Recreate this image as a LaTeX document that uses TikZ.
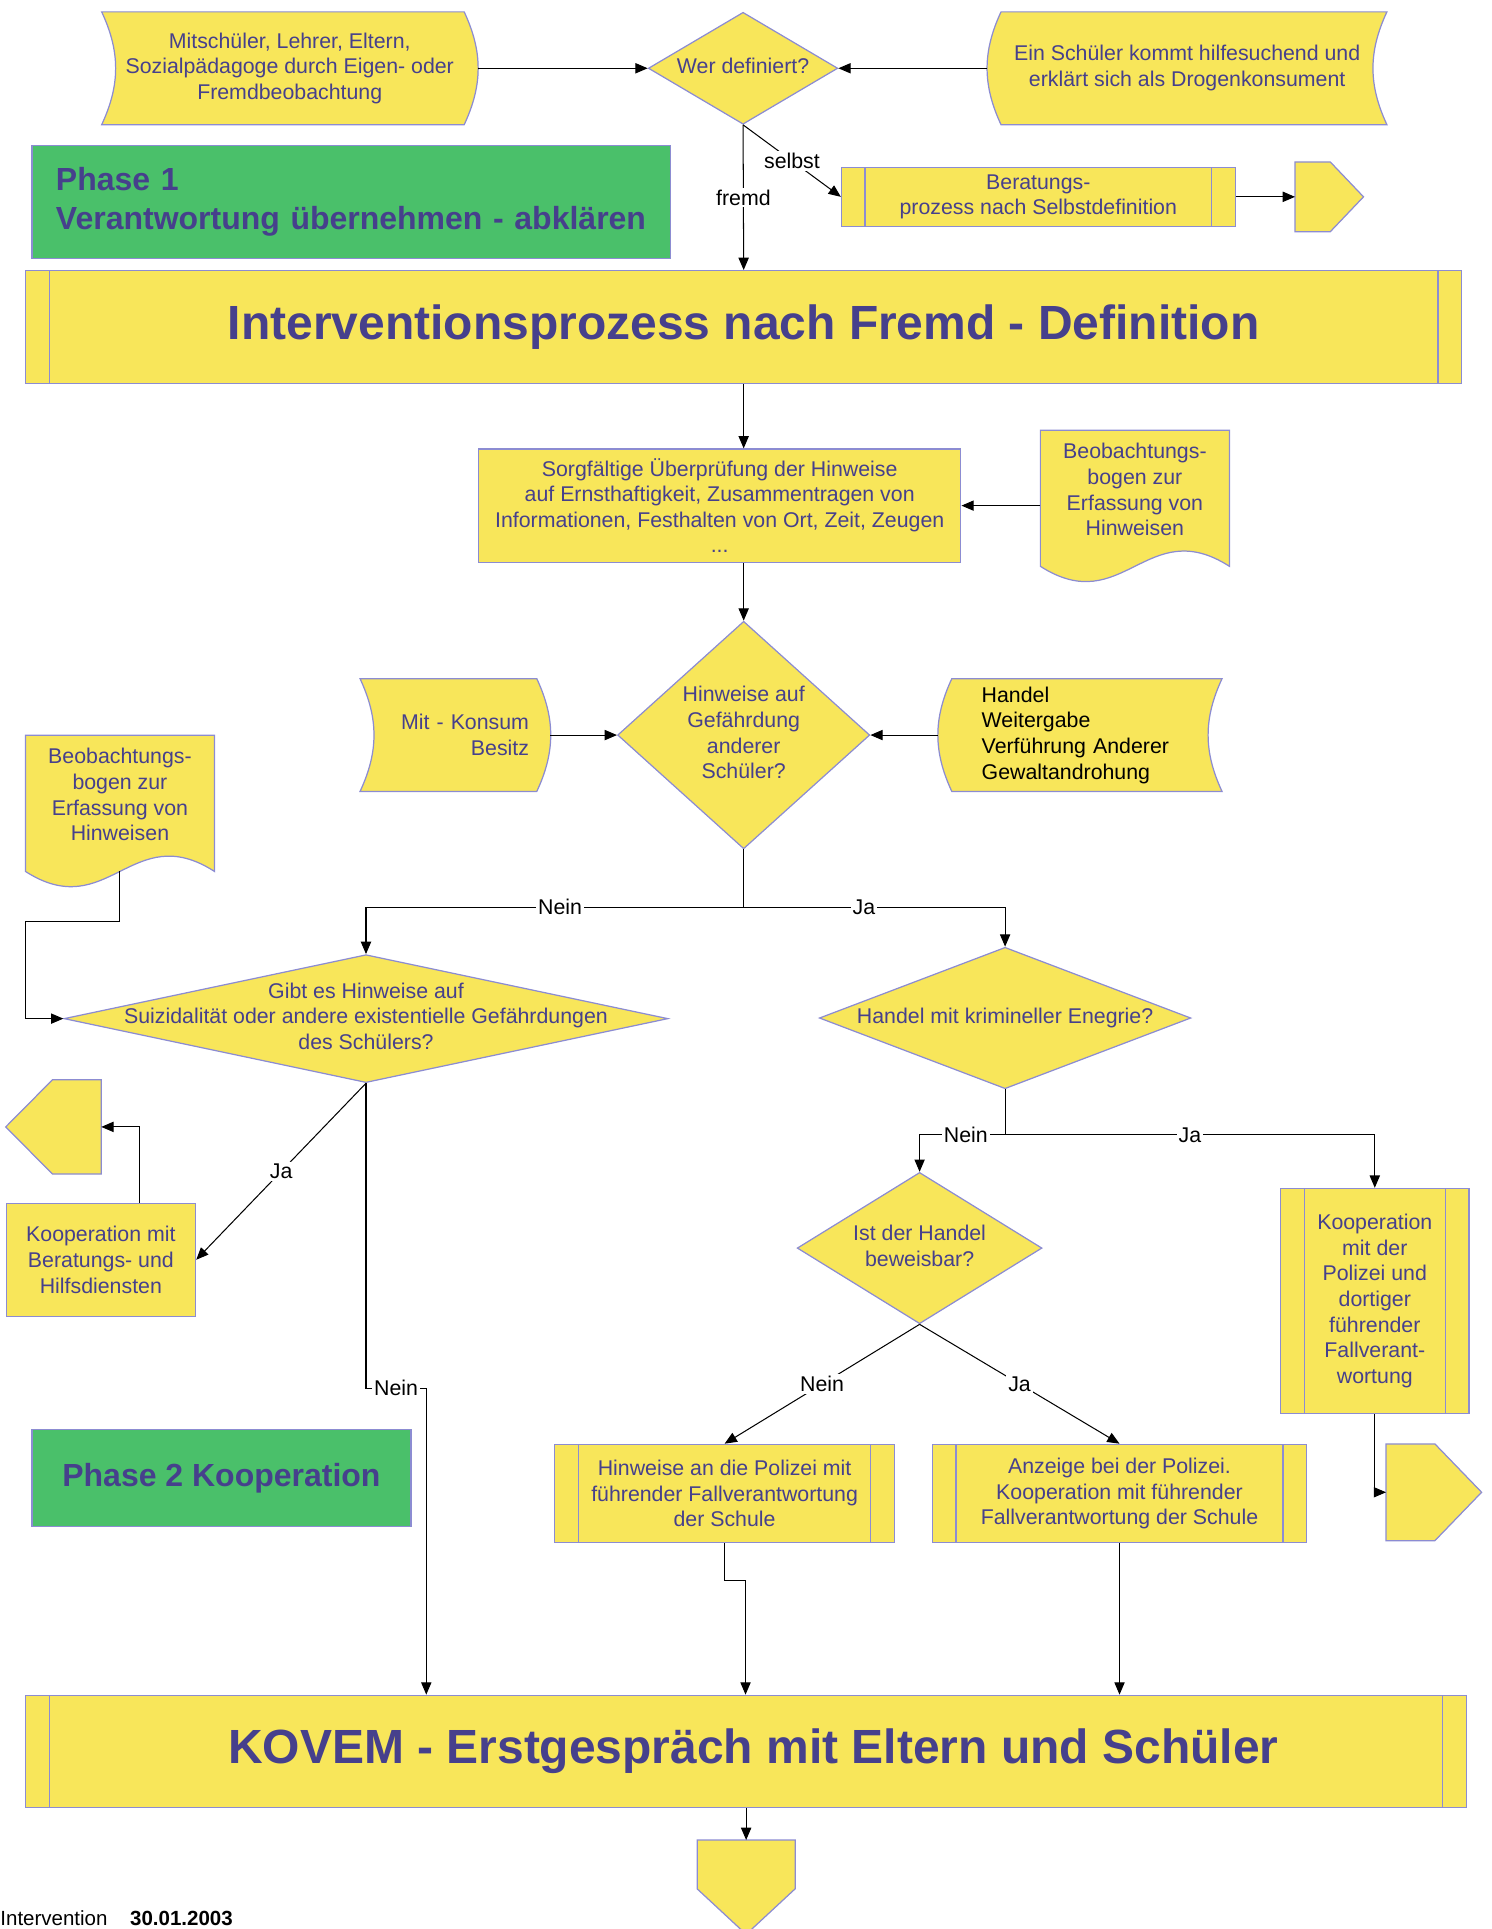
\documentclass[tikz,border=0pt]{standalone}
\usepackage{fontspec}
\setmainfont{Liberation Sans}
\usetikzlibrary{shapes.geometric, arrows.meta, backgrounds, positioning}

\definecolor{boxfill}{RGB}{248,230,90}
\definecolor{boxline}{RGB}{140,140,210}
\definecolor{txtblue}{RGB}{70,64,140}
\definecolor{phasegreen}{RGB}{74,192,106}

\newcommand{\fnorm}{\fontsize{10.4}{12.5}\selectfont}
\newcommand{\ftitle}{\fontsize{23.4}{28}\selectfont\bfseries}
% text in a diamond, kept out of the node size
\newcommand{\dtxt}[1]{\makebox[0pt]{\raisebox{-2.6pt}{\begin{tabular}{@{}c@{}}#1\end{tabular}}}}
% outlines drawn behind the nodes
\newcommand{\bowright}[1]{\path[shapefill] (#1.north west) to[bend left=25] (#1.south west) -- ([xshift=-6.6pt]#1.south east) to[bend right=25] ([xshift=-6.6pt]#1.north east) -- cycle;}
\newcommand{\bowleft}[1]{\path[shapefill] ([xshift=6.6pt]#1.north west) to[bend right=25] ([xshift=6.6pt]#1.south west) -- (#1.south east) to[bend left=25] (#1.north east) -- cycle;}
\newcommand{\docwave}[1]{\path[shapefill] (#1.north west) -- (#1.north east) -- ([yshift=-8.4pt]#1.south east) .. controls ([xshift=-40.2pt,yshift=17.4pt]#1.south east) and ([xshift=40.2pt,yshift=-34.2pt]#1.south west) .. ([yshift=-8.4pt]#1.south west) -- cycle;}
% off-page connectors
\newcommand{\pentright}[2]{\path[shapefill] (#1.north west) -- ([xshift=-#2]#1.north east) -- (#1.east) -- ([xshift=-#2]#1.south east) -- (#1.south west) -- cycle;}
\newcommand{\pentleft}[2]{\path[shapefill] (#1.north east) -- ([xshift=#2]#1.north west) -- (#1.west) -- ([xshift=#2]#1.south west) -- (#1.south east) -- cycle;}
\newcommand{\pentdown}[2]{\path[shapefill] (#1.north west) -- (#1.north east) -- ([yshift=#2]#1.south east) -- (#1.south) -- ([yshift=#2]#1.south west) -- cycle;}

\begin{document}
\begin{tikzpicture}[x=0.6pt, y=-0.6pt,
	sz/.style 2 args={minimum width=#1*0.6pt, minimum height=#2*0.6pt},
	plain/.style={rectangle, inner sep=2pt, text=txtblue, font=\fnorm, align=center},
	box/.style={plain, draw=boxline, fill=boxfill, line width=0.6pt},
	proc/.style={box, path picture={\draw[boxline, line width=0.6pt] ([xshift=11.5pt]path picture bounding box.north west) -- ([xshift=11.5pt]path picture bounding box.south west) ([xshift=-11.5pt]path picture bounding box.north east) -- ([xshift=-11.5pt]path picture bounding box.south east);}},
	dec/.style={diamond, draw=boxline, fill=boxfill, line width=0.6pt, inner sep=0pt, text height=0pt, text depth=0pt, text=txtblue, font=\fnorm},
	sig/.style={rectangle, inner sep=0pt},
	phase/.style={rectangle, draw=boxline, fill=phasegreen, line width=0.6pt, text=txtblue, font=\fontsize{15.6}{18.6}\selectfont\bfseries},
	conn/.style={draw=black, line width=0.5pt, -{Triangle[length=6pt,width=5pt]}},
	lbl/.style={fill=white, inner sep=1pt, font=\fnorm, text=black},
	shapefill/.style={fill=boxfill, draw=boxline, line width=0.6pt}]
		\useasboundingbox (0,0) rectangle (1212,1568);
		% Phase 1
		\node[plain, sz={305}{91}] (beob) at (235.5,55.5) {Mitschüler, Lehrer, Eltern,\\Sozialpädagoge durch Eigen- oder\\Fremdbeobachtung};
		\node[dec, sz={154}{91}] (wer) at (604,55.5) {\dtxt{Wer definiert?}};
		\node[plain, sz={324}{91}] (hilfe) at (965,55.5) {Ein Schüler kommt hilfesuchend und\\erklärt sich als Drogenkonsument};
		\node[phase, sz={519}{92}, align=left, text width=288pt] (phase1) at (285.5,164) {Phase 1\\Verantwortung übernehmen - abklären};
		\node[proc, sz={320}{48}] (selbstproz) at (844,160) {Beratungs-\\prozess nach Selbstdefinition};
		\node[sig, sz={55}{56}] (ausR) at (1080.5,160) {};
		\node[proc, sz={1167}{92}, font=\ftitle] (intv) at (604.5,266) {\raisebox{-1.5pt}{Interventionsprozess nach Fremd - Definition}};
		\node[box, sz={392}{92}] (pruef) at (585,411) {Sorgfältige Überprüfung der Hinweise\\auf Ernsthaftigkeit, Zusammentragen von\\Informationen, Festhalten von Ort, Zeit, Zeugen\\...};
		\node[plain, sz={153}{96}] (bogenR) at (922.5,398) {Beobachtungs-\\bogen zur\\Erfassung von\\Hinweisen};
		\node[dec, sz={205}{185}] (gefahr) at (604.5,597.5) {\dtxt{Hinweise auf\\Gefährdung\\anderer\\Schüler?}};
		\node[plain, sz={154}{91}, align=right, text width=72pt] (konsum) at (370,597.5) {Mit - Konsum\\Besitz};
		\node[plain, sz={230}{91}, align=left, text width=96pt, text=black] (handel) at (878,597.5) {Handel\\Weitergabe\\Verführung Anderer\\Gewaltandrohung};
		\node[plain, sz={153}{96}] (bogenL) at (97.5,646) {Beobachtungs-\\bogen zur\\Erfassung von\\Hinweisen};
		\node[dec, sz={491}{104}] (suizid) at (297.5,828) {\dtxt{Gibt es Hinweise auf\\Suizidalität oder andere existentielle Gefährdungen\\des Schülers?}};
		\node[dec, sz={302}{115}] (krimi) at (817,827.5) {\dtxt{Handel mit krimineller Enegrie?}};
		% Phase 2
		\node[sig, sz={77}{76}] (ausL) at (43.5,916) {};
		\node[box, sz={154}{92}] (koopB) at (82,1024) {Kooperation mit\\Beratungs- und\\Hilfsdiensten};
		\node[dec, sz={199}{123}] (beweis) at (747.5,1014.5) {\dtxt{Ist der Handel\\beweisbar?}};
		\node[proc, sz={153}{183}] (koopP) at (1117.5,1057.5) {Kooperation\\mit der\\Polizei und\\dortiger\\führender\\Fallverant-\\wortung};
		\node[sig, sz={77}{78}] (ausP) at (1165.5,1213) {};
		\node[phase, sz={308}{79}] (phase2) at (180,1201.5) {Phase 2 Kooperation};
		\node[proc, sz={276}{80}] (hinweis) at (589,1214) {Hinweise an die Polizei mit\\führender Fallverantwortung\\der Schule};
		\node[proc, sz={304}{80}] (anzeige) at (910,1214) {Anzeige bei der Polizei.\\Kooperation mit führender\\Fallverantwortung der Schule};
		\node[proc, sz={1171}{91}, font=\ftitle] (kovem) at (606.5,1423.5) {\hspace*{7pt}\raisebox{-1.5pt}{KOVEM - Erstgespräch mit Eltern und Schüler}};
		\node[sig, sz={79}{76}] (ausB) at (606.5,1534) {};
		\node[anchor=base west, inner sep=0pt, font=\fontsize{10}{12}\selectfont] (stand) at (0,1565) {Intervention\hspace{1.1em}\textbf{30.01.2003}};

		\begin{pgfonlayer}{background}
		\bowright{beob}
		\bowleft{hilfe}
		\bowright{konsum}
		\bowleft{handel}
		\docwave{bogenR}
		\docwave{bogenL}
		\pentright{ausR}{16.2pt}
		\pentleft{ausL}{22.8pt}
		\pentright{ausP}{22.8pt}
		\pentdown{ausB}{22.2pt}
		\end{pgfonlayer}

		% connectors
		\draw[conn] (beob.east) -- (wer.west);
		\draw[conn] (hilfe.west) -- (wer.east);
		\draw[conn] (wer.south) -- node[lbl, midway] {fremd} (intv.north);
		\draw[conn] (wer.south) -- node[lbl, midway] {selbst} (selbstproz.west);
		\draw[conn] (selbstproz.east) -- (ausR.west);
		\draw[conn] (intv.south) -- (intv.south |- pruef.north);
		\draw[conn] (bogenR.west |- pruef.east) -- (pruef.east);
		\draw[conn] (gefahr.north |- pruef.south) -- (gefahr.north);
		\draw[conn] (konsum.east) -- (gefahr.west);
		\draw[conn] (handel.west) -- (gefahr.east);
		\draw[conn] ([yshift=-8.4pt]bogenL.south) -- ++(0,41) -| (bogenL.west |- suizid.west) -- (suizid.west);
		\draw[conn] (gefahr.south) -- ++(0,47) -| node[lbl, pos=0.243] {Nein} (suizid.north);
		\draw[conn] (gefahr.south) -- ++(0,47) -| node[lbl, pos=0.23] {Ja} (krimi.north);
		\draw[conn] (suizid.south) -- node[lbl, midway] {Ja} (koopB.east);
		\draw[conn] (suizid.south) -- ++(0,248) -- node[lbl, midway] {Nein} ++(49,0) coordinate (neinK) -- (neinK |- kovem.north);
		\draw[conn] ([xshift=18.6pt]koopB.north) |- (ausL.east);
		\draw[conn] (krimi.south) -- ++(0,37) -| node[lbl, pos=0.23] {Nein} (beweis.north);
		\draw[conn] (krimi.south) -- ++(0,37) -| node[lbl, pos=0.25] {Ja} (koopP.north);
		\draw[conn] (beweis.south) -- node[lbl, midway] {Nein} (hinweis.north);
		\draw[conn] (beweis.south) -- node[lbl, midway] {Ja} (anzeige.north);
		\draw[conn] (koopP.south) |- (ausP.west);
		\draw[conn] (hinweis.south) -- ++(0,30) -- ++(17,0) coordinate (hk) -- (hk |- kovem.north);
		\draw[conn] (anzeige.south) -- (anzeige.south |- kovem.north);
		\draw[conn] (kovem.south) -- (ausB.north);
\end{tikzpicture}
\end{document}
